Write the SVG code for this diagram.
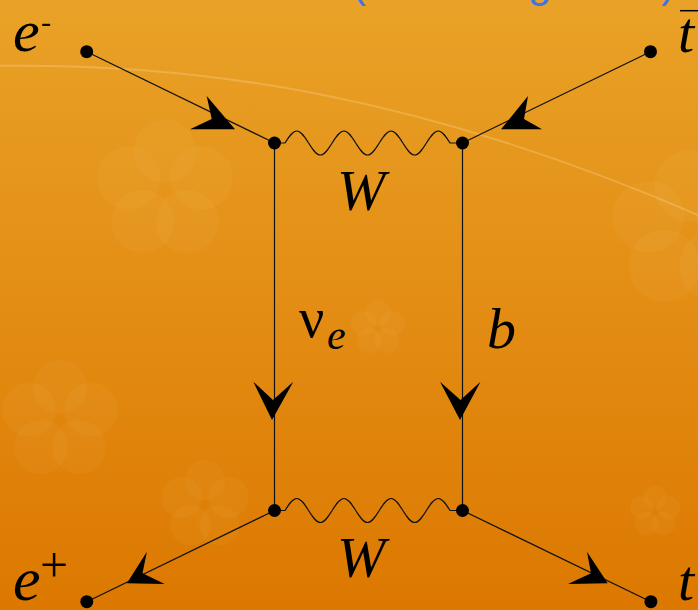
<svg xmlns="http://www.w3.org/2000/svg" width="698" height="610" viewBox="0 0 698 610">
  <defs>
    <linearGradient id="bg" x1="0" y1="0" x2="0" y2="1">
      <stop offset="0" stop-color="#E9A227"/>
      <stop offset="0.5" stop-color="#E38D14"/>
      <stop offset="1" stop-color="#DC7800"/>
    </linearGradient>
    <g id="flower">
      <circle cx="0" cy="-0.55" r="0.45"/>
      <circle cx="0.52" cy="-0.17" r="0.45"/>
      <circle cx="0.32" cy="0.45" r="0.45"/>
      <circle cx="-0.32" cy="0.45" r="0.45"/>
      <circle cx="-0.52" cy="-0.17" r="0.45"/>
    </g>
    <style>
      .wire { fill: none; stroke: #111; stroke-width: 1.2; }
      .dot { fill: #000; }
      .arrow { fill: #000; }
      .lbl { font-family: "Liberation Serif", "Times New Roman", serif; font-style: italic; fill: #000; }
      .greek { font-family: "Liberation Serif", "Times New Roman", serif; font-style: normal; fill: #000; }
      .deco { fill: #FFF3D6; fill-opacity: 0.04; }
      .blue { font-family: "Liberation Sans", Arial, sans-serif; fill: #3F73EE; font-size: 42px; }
    </style>
  </defs>

  <rect x="0" y="0" width="698" height="610" fill="url(#bg)"/>

  <!-- faint background decoration -->
  <g class="deco">
    <use href="#flower" transform="translate(165,190) scale(70)"/>
    <use href="#flower" transform="translate(378,328) scale(28)"/>
    <use href="#flower" transform="translate(205,505) scale(45)"/>
    <use href="#flower" transform="translate(655,512) scale(26)"/>
    <use href="#flower" transform="translate(60,420) scale(60)"/>
    <use href="#flower" transform="translate(690,230) scale(80)"/>
  </g>
  <path d="M-10,66 C200,62 420,95 698,215" fill="none" stroke="#FFE6B4" stroke-opacity="0.25" stroke-width="2"/>

  <!-- partially visible blue title -->
  <text class="blue" y="-3"><tspan x="352">(</tspan><tspan x="528">g</tspan><tspan x="661">)</tspan></text>

  <!-- connectors -->
  <g id="connectors">
    <line class="wire" x1="86.7" y1="51.7" x2="274.5" y2="143"/>
    <line class="wire" x1="650.5" y1="51.7" x2="462.5" y2="143"/>
    <line class="wire" x1="274.5" y1="143" x2="274.5" y2="510.5"/>
    <line class="wire" x1="462.5" y1="143" x2="462.5" y2="510.5"/>
    <line class="wire" x1="274.5" y1="510.5" x2="86.8" y2="601.7"/>
    <line class="wire" x1="462.5" y1="510.5" x2="650.9" y2="601.7"/>
    <path id="w-top" class="wire" d="M274.5,143 L285,143
      c3.844,-6.147 7.52,-12 11.786,-12 c4.266,0 7.942,5.853 11.786,12 c3.844,6.147 7.52,12 11.786,12 c4.266,0 7.942,-5.853 11.786,-12
      c3.844,-6.147 7.52,-12 11.786,-12 c4.266,0 7.942,5.853 11.786,12 c3.844,6.147 7.52,12 11.786,12 c4.266,0 7.942,-5.853 11.786,-12
      c3.844,-6.147 7.52,-12 11.786,-12 c4.266,0 7.942,5.853 11.786,12 c3.844,6.147 7.52,12 11.786,12 c4.266,0 7.942,-5.853 11.786,-12
      c3.844,-6.147 7.52,-12 11.786,-12 c4.266,0 7.942,5.853 11.786,12 L462.5,143"/>
    <path id="w-bottom" class="wire" d="M274.5,510.5 L285,510.5
      c3.844,-6.147 7.52,-12 11.786,-12 c4.266,0 7.942,5.853 11.786,12 c3.844,6.147 7.52,12 11.786,12 c4.266,0 7.942,-5.853 11.786,-12
      c3.844,-6.147 7.52,-12 11.786,-12 c4.266,0 7.942,5.853 11.786,12 c3.844,6.147 7.52,12 11.786,12 c4.266,0 7.942,-5.853 11.786,-12
      c3.844,-6.147 7.52,-12 11.786,-12 c4.266,0 7.942,5.853 11.786,12 c3.844,6.147 7.52,12 11.786,12 c4.266,0 7.942,-5.853 11.786,-12
      c3.844,-6.147 7.52,-12 11.786,-12 c4.266,0 7.942,5.853 11.786,12 L462.5,510.5"/>
    <!-- arrowheads -->
    <polygon class="arrow" points="206.7,96 235,129.3 190,129.3 211.7,119"/>
    <polygon class="arrow" points="528,96 501,129.3 542,129.3 524,119"/>
    <polygon class="arrow" points="253.3,381.7 273,400 293.3,381.7 272,420"/>
    <polygon class="arrow" points="440,381.7 460.5,400 480.5,381.7 460,420"/>
    <polygon class="arrow" points="146.9,551.7 142.5,573.3 164.7,584 126.9,583.3"/>
    <polygon class="arrow" points="587,551.7 591,573.3 568,584 607.7,583.3"/>
  </g>

  <!-- nodes -->
  <g id="n-eminus">
    <circle class="dot" cx="86.7" cy="51.7" r="6.5"/>
    <text class="lbl" x="13" y="51" font-size="60">e</text>
    <text class="greek" x="41" y="32" font-size="30">-</text>
  </g>
  <g id="n-tbar">
    <circle class="dot" cx="650.5" cy="51.7" r="6.5"/>
    <text class="lbl" x="678" y="51.5" font-size="58">t</text>
    <line x1="680" y1="10.7" x2="698" y2="10.7" stroke="#000" stroke-width="1.5"/>
  </g>
  <g id="v-top-left">
    <circle class="dot" cx="274.5" cy="143" r="6.5"/>
  </g>
  <g id="v-top-right">
    <circle class="dot" cx="462.5" cy="143" r="6.5"/>
  </g>
  <g id="v-bottom-left">
    <circle class="dot" cx="274.5" cy="510.5" r="6.5"/>
  </g>
  <g id="v-bottom-right">
    <circle class="dot" cx="462.5" cy="510.5" r="6.5"/>
  </g>
  <g id="n-eplus">
    <circle class="dot" cx="86.8" cy="601.7" r="6.5"/>
    <text class="lbl" x="13" y="600" font-size="62">e</text>
    <text class="greek" x="40" y="581.5" font-size="50">+</text>
  </g>
  <g id="n-t">
    <circle class="dot" cx="650.9" cy="601.7" r="6.5"/>
    <text class="lbl" x="678" y="600" font-size="58">t</text>
  </g>

  <!-- line labels -->
  <g id="labels">
    <text class="lbl" x="337" y="210" font-size="58">W</text>
    <text class="lbl" x="337" y="577" font-size="58">W</text>
    <text class="greek" x="299" y="337" font-size="56">ν</text>
    <text class="lbl" x="327" y="349" font-size="42">e</text>
    <text class="lbl" x="487" y="348" font-size="58">b</text>
  </g>
</svg>
